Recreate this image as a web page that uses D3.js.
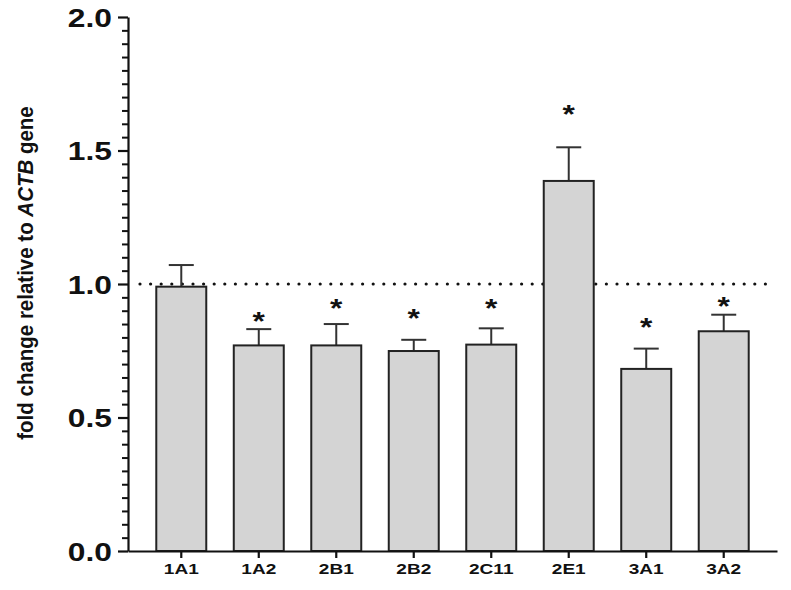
<!DOCTYPE html>
<html>
<head>
<meta charset="utf-8">
<script src="https://cdn.jsdelivr.net/npm/d3@7"></script>
<style>
  html, body { margin: 0; padding: 0; background: #fff; }
  svg { display: block; }
</style>
</head>
<body>
<svg id="chart" width="791" height="590"></svg>
<script>
"use strict"

var categories = ["1A1", "1A2", "2B1", "2B2", "2C11", "2E1", "3A1", "3A2"];
var means      = [0.990, 0.770, 0.770, 0.749, 0.773, 1.386, 0.682, 0.823];
var errors     = [0.081, 0.061, 0.080, 0.042, 0.061, 0.126, 0.076, 0.062];
var stars      = [null,  0.881, 0.929, 0.890, 0.928, 1.654, 0.859, 0.936];
var yTicks     = [0.0, 0.5, 1.0, 1.5, 2.0];
var reference  = 1.0;

var stretch = 1.27;   // text in the figure is wider than plain Arial
var font    = "Liberation Sans, Arial, sans-serif";

var svg = d3.select("#chart");

var x = d3.scaleBand()
    .domain(categories)
    .range([128, 777])
    .paddingInner(0.355)
    .paddingOuter(0.365);

var y = d3.scaleLinear()
    .domain([0, 2])
    .range([551, 17]);

var bars = categories.map(function(c, i) {
    return { cat: c, mean: means[i], err: errors[i], star: stars[i] };
});
var cx = function(d) { return x(d.cat) + x.bandwidth() / 2; };

// dotted reference line, drawn under bars
svg.append("line")
    .attr("x1", 140)
    .attr("x2", 770)
    .attr("y1", y(reference))
    .attr("y2", y(reference))
    .style("stroke", "#111")
    .style("stroke-width", 3.2)
    .style("stroke-linecap", "round")
    .style("stroke-dasharray", "0 10.6");

// error whiskers (upper only)
var g = svg.append("g");
g.selectAll("line.whisker").data(bars).enter()
    .append("line")
    .attr("class", "whisker")
    .attr("x1", cx)
    .attr("x2", cx)
    .attr("y1", d => y(d.mean))
    .attr("y2", d => y(d.mean + d.err))
    .style("stroke", "#333")
    .style("stroke-width", 2);
g.selectAll("line.cap").data(bars).enter()
    .append("line")
    .attr("class", "cap")
    .attr("x1", d => cx(d) - 12.5)
    .attr("x2", d => cx(d) + 12.5)
    .attr("y1", d => y(d.mean + d.err))
    .attr("y2", d => y(d.mean + d.err))
    .style("stroke", "#333")
    .style("stroke-width", 2);

// bars
svg.selectAll("rect.bar").data(bars).enter()
    .append("rect")
    .attr("class", "bar")
    .attr("x", d => x(d.cat))
    .attr("y", d => y(d.mean))
    .attr("width", x.bandwidth())
    .attr("height", d => y(0) - y(d.mean))
    .style("fill", "#d4d4d4")
    .style("stroke", "#222")
    .style("stroke-width", 2);

// significance stars
svg.selectAll("text.star").data(bars.filter(d => d.star != null)).enter()
    .append("text")
    .attr("class", "star")
    .attr("transform", d => "translate(" + cx(d) + "," + (y(d.star) + 14) + ") scale(" + stretch + ",1)")
    .attr("text-anchor", "middle")
    .attr("font-family", font)
    .attr("font-weight", "bold")
    .attr("font-size", "25px")
    .style("fill", "#111")
    .text("*");

// y axis
var minor = d3.range(0, 2.0001, 0.05).filter(v => Math.abs(v * 2 - Math.round(v * 2)) > 1e-6);
var yMinor = svg.append("g")
    .attr("transform", "translate(128,0)")
    .call(d3.axisLeft(y).tickValues(minor).tickSize(6).tickFormat(""));
yMinor.select(".domain").remove();
yMinor.selectAll("line").style("stroke", "#111").style("stroke-width", 2);

var yAxis = svg.append("g")
    .attr("transform", "translate(128,0)")
    .call(d3.axisLeft(y).tickValues(yTicks).tickSize(10).tickSizeOuter(0).tickPadding(6)
        .tickFormat(d3.format(".1f")));
yAxis.select(".domain").style("stroke", "#111").style("stroke-width", 2.2);
yAxis.selectAll("line").style("stroke", "#111").style("stroke-width", 2.2);
yAxis.selectAll("text")
    .attr("x", 0)
    .attr("transform", "translate(-16,0) scale(" + stretch + ",1)")
    .attr("font-family", font)
    .attr("font-weight", "bold")
    .attr("font-size", "25px")
    .attr("dy", "0.36em")
    .style("fill", "#111");

// x axis
var xAxis = svg.append("g")
    .attr("transform", "translate(0," + y(0) + ")")
    .call(d3.axisBottom(x).tickSize(7).tickSizeOuter(0).tickPadding(5));
xAxis.select(".domain").style("stroke", "#111").style("stroke-width", 2.2);
xAxis.selectAll("line").style("stroke", "#111").style("stroke-width", 2.2);
xAxis.selectAll("text")
    .attr("transform", "scale(" + stretch + ",1)")
    .attr("font-family", font)
    .attr("font-weight", "bold")
    .attr("font-size", "15px")
    .style("fill", "#111");

// y axis title
var title = svg.append("text")
    .attr("transform", "translate(33,273) scale(1.05,1) rotate(-90)")
    .attr("text-anchor", "middle")
    .attr("font-family", font)
    .attr("font-weight", "bold")
    .attr("font-size", "20.5px")
    .style("fill", "#111");
title.append("tspan").text("fold change relative to ");
title.append("tspan").attr("font-style", "italic").text("ACTB");
title.append("tspan").text(" gene");
</script>
</body>
</html>
